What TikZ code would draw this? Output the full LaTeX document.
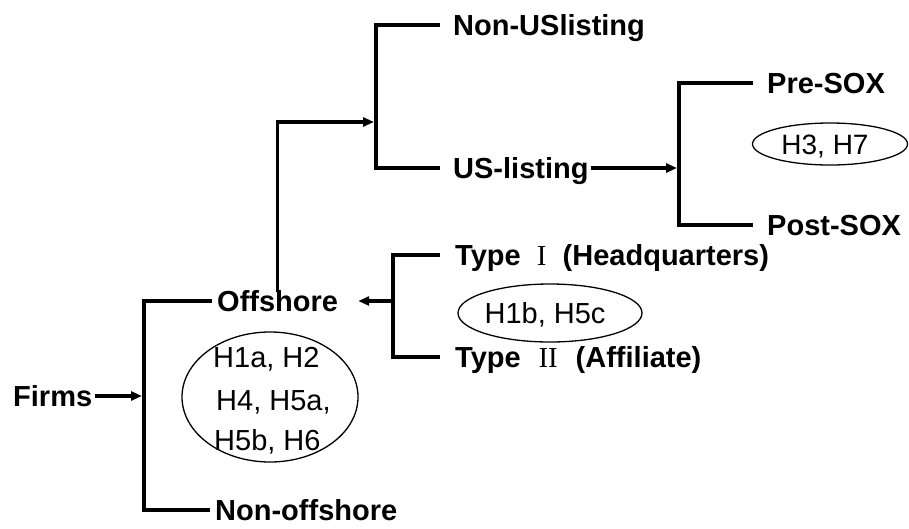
\documentclass[tikz,border=0pt]{standalone}
\usepackage{fontspec}
\setmainfont{Liberation Sans}
\newfontfamily\romanfont{Liberation Serif}
\usetikzlibrary{arrows.meta,shapes.geometric}
\begin{document}
\begin{tikzpicture}[x=1pt,y=-1pt,
  lab/.style={font=\fontsize{29}{34}\selectfont\bfseries, anchor=west, inner sep=0pt, text height=21pt, text depth=0pt},
  hyp/.style={font=\fontsize{29}{34}\selectfont, inner sep=0pt, text height=21pt, text depth=0pt},
  oval/.style={draw, ellipse, line width=1.3pt, inner sep=0pt},
  bar/.style={line width=4.2pt, line join=miter},
  arr/.style={line width=3.2pt, -{Triangle[length=11pt,width=9pt]}}]
\useasboundingbox (0,0) rectangle (909,528);

% labels
\node[lab] (firms) at (13,396) {Firms};
\node[lab] (off) at (217,301) {Offshore};
\node[lab] (nonoff) at (215,510) {Non-offshore};
\node[lab] (nonus) at (453,25) {Non-USlisting};
\node[lab] (us) at (453,168) {US-listing};
\node[lab] (pre) at (767,83) {Pre-SOX};
\node[lab] (post) at (767,225) {Post-SOX};
\node[lab] (t1) at (455,255) {Type\makebox[42pt]{\romanfont\mdseries I}(Headquarters)};
\node[lab] (t2) at (455,357) {Type\makebox[55pt]{\romanfont\mdseries II}(Affiliate)};

% hypothesis ovals
\node[oval, minimum width=176pt, minimum height=130pt] (e1) at (270,397) {};
\node[hyp, anchor=west] (e1a) at (213,357) {H1a, H2};
\node[hyp, anchor=west] (e1b) at (216,400) {H4, H5a,};
\node[hyp, anchor=west] (e1c) at (214,440) {H5b, H6};
\node[oval, minimum width=184pt, minimum height=58pt] (e2) at (550,313) {};
\node[hyp] (e2t) at (545,313) {H1b, H5c};
\node[oval, minimum width=155pt, minimum height=42pt] (e3) at (830,144) {};
\node[hyp, font=\fontsize{28}{32}\selectfont] (e3t) at (825,144) {H3, H7};

% bar coordinates
\coordinate (b1t) at (144,301);
\coordinate (b1b) at (144,510);
\coordinate (b1m) at (142,396);
\coordinate (b2t) at (376,25);
\coordinate (b2b) at (376,168);
\coordinate (b2m) at (374,122);
\coordinate (b3t) at (679,83);
\coordinate (b3b) at (679,225);
\coordinate (b3m) at (677,168);
\coordinate (b4t) at (393,255);
\coordinate (b4b) at (393,357);
\coordinate (b4m) at (391,301);

% brackets
\draw[bar] ([xshift=-5pt]off.west) -- (b1t) -- (b1b) -- ([xshift=-5pt]nonoff.west);
\draw[bar] ([xshift=-13pt]nonus.west) -- (b2t) -- (b2b) -- ([xshift=-13pt]us.west);
\draw[bar] ([xshift=-14pt]pre.west) -- (b3t) -- (b3b) -- ([xshift=-14pt]post.west);
\draw[bar] ([xshift=-15pt]t1.west) -- (b4t) -- (b4b) -- ([xshift=-15pt]t2.west);

% arrows
\draw[arr] ([xshift=3pt]firms.east) -- (b1m);
\draw[arr, line join=miter] ([yshift=-2pt]off.north) |- (b2m);
\draw[arr] ([xshift=2pt]us.east) -- (b3m);
\draw[arr] (b4m) -- ([xshift=20pt]off.east);
\end{tikzpicture}
\end{document}
